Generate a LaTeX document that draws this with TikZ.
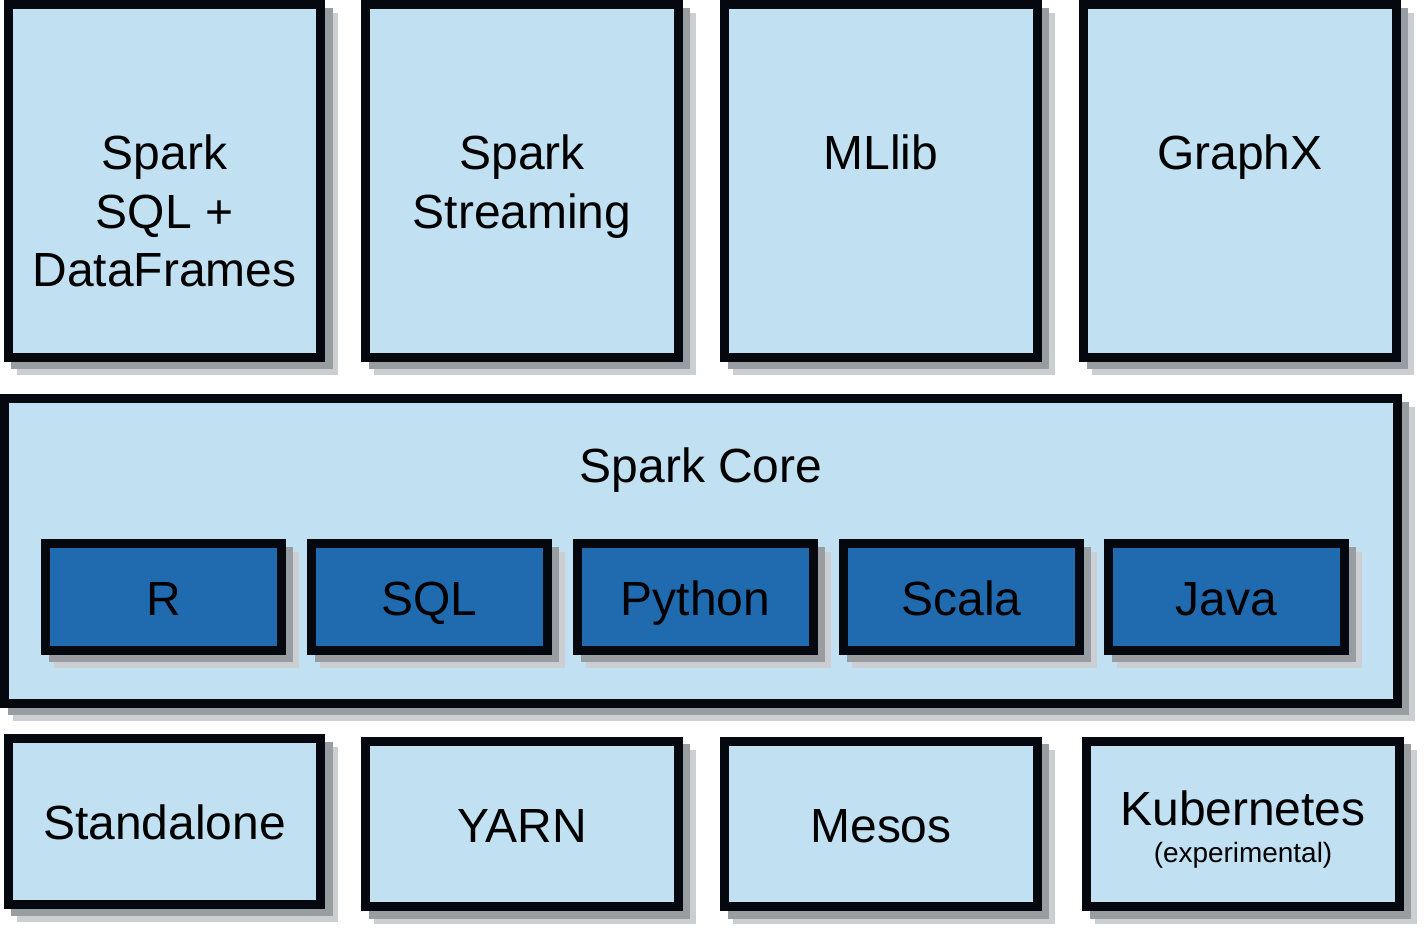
\documentclass[tikz,border=0pt]{standalone}
\usepackage{fontspec}
\setmainfont{Liberation Sans}
\usepackage{tikz}
\usetikzlibrary{positioning,shadows,fit}
\definecolor{lightfill}{RGB}{193,225,242}
\definecolor{langfill}{RGB}{32,107,176}
\definecolor{edgecol}{RGB}{5,8,14}
\definecolor{shadowdark}{RGB}{152,157,162}
\definecolor{shadowlight}{RGB}{204,207,210}
\newcommand{\bigtext}{\fontsize{27.3}{33.3}\selectfont}
\newcommand{\smalltext}{\fontsize{15.9}{19}\selectfont}
\tikzset{
	shadowed/.style={
		preaction={fill=shadowlight, draw=shadowlight, line width=0.18cm, transform canvas={xshift=0.26cm, yshift=-0.26cm}},
		preaction={fill=shadowdark, draw=shadowdark, line width=0.18cm, transform canvas={xshift=0.15cm, yshift=-0.15cm}}},
	block/.style={shadowed, rectangle, draw=edgecol, fill=lightfill, line width=0.18cm, inner sep=0pt},
	topbox/.style={block, minimum width=6.26cm, minimum height=7.06cm},
	corebox/.style={block, minimum width=27.86cm, minimum height=6.1cm},
	langbox/.style={block, fill=langfill, minimum width=4.72cm, minimum height=2.14cm},
	basebox/.style={block, minimum width=6.26cm, minimum height=3.32cm},
	lbl/.style={font=\bigtext, text=black, align=center, anchor=base, inner sep=0pt}
}

\begin{document}
\begin{tikzpicture}[x=0.02cm, y=-0.02cm]
	\useasboundingbox (0,0) rectangle (1425,928);
	
	% libraries on top (base = last line)
	\node[topbox] (sqlbox) at (164.5,181) {};
	\node[topbox] (streambox) at (522,181) {};
	\node[topbox] (mllibbox) at (881,181) {};
	\node[topbox] (graphxbox) at (1240,181) {};
	
	\node[lbl] (sqltext) at (164.5,287) {Spark\\SQL +\\DataFrames};
	\node[lbl] (streamtext) at (522,228.5) {Spark\\Streaming};
	\node[lbl] (mllibtext) at (881,170) {MLlib};
	\node[lbl] (graphxtext) at (1240,170) {GraphX};
	
	% core with languages
	\node[corebox] (core) at (701,551) {};
	\node[lbl] (coretext) at (701,482) {Spark Core};
	
	\node[langbox] (R) at (163.5,597) {};
	\node[langbox] (SQL) at (429.5,597) {};
	\node[langbox] (Python) at (695.5,597) {};
	\node[langbox] (Scala) at (961.5,597) {};
	\node[langbox] (Java) at (1226.5,597) {};
	
	\node[lbl] (Rtext) at (163.5,615) {R};
	\node[lbl] (SQLtext) at (429.5,615) {SQL};
	\node[lbl] (Pythontext) at (695.5,615) {Python};
	\node[lbl] (Scalatext) at (961.5,615) {Scala};
	\node[lbl] (Javatext) at (1226.5,615) {Java};
	
	% cluster managers
	\node[basebox] (standalone) at (164.5,821.5) {};
	\node[basebox] (yarn) at (522,824) {};
	\node[basebox] (mesos) at (881,824) {};
	\node[basebox] (kube) at (1243,824) {};
	
	\node[lbl] (standalonetext) at (164.5,839) {Standalone};
	\node[lbl] (yarntext) at (522,842) {YARN};
	\node[lbl] (mesostext) at (881,842) {Mesos};
	\node[lbl] (kubetext) at (1243,825) {Kubernetes};
	\node[lbl, font=\smalltext] (exptext) at (1243,862) {(experimental)};
\end{tikzpicture}
\end{document}
